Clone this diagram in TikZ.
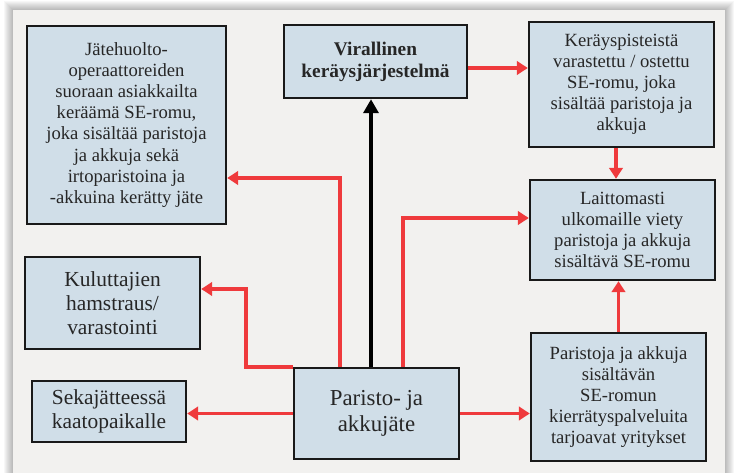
\documentclass[tikz,border=0pt]{standalone}
\usepackage{fontspec}
\setmainfont{Liberation Serif}
\usepackage{xcolor}
\usepackage{tikz}
\usetikzlibrary{
  arrows.meta,
  positioning,
  calc
}
\definecolor{PanelGray}{HTML}{F2F1EF}
\definecolor{BoxBlue}{HTML}{D0DEE8}
\definecolor{FlowRed}{HTML}{EF3A3C}
\definecolor{TextGray}{HTML}{262626}
\tikzset{
  box/.style={
    draw=black!90,
    line width=1.4pt,
    fill=BoxBlue,
    text=TextGray,
    align=center,
    inner sep=2pt,
    font=\fontsize{10.6}{12}\selectfont
  },
  bigbox/.style={
    box,
    font=\fontsize{12.2}{13.6}\selectfont
  },
  mainbox/.style={
    box,
    font=\fontsize{13}{15}\selectfont
  },
  flow/.style={
    -{Triangle[length=2.2mm,width=2.7mm]},
    draw=FlowRed,
    line width=2.2pt
  },
  official/.style={
    -{Triangle[length=2.8mm,width=3mm]},
    draw=black,
    line width=2.6pt
  }
}

\begin{document}
\begin{tikzpicture}[
  x=0.02cm,
  y=-0.02cm
]

  \useasboundingbox (0,0) rectangle (734,473);
  \fill[white] (0,0) rectangle (734,473);
  \foreach \s in {1,...,9} {
    \fill[black, opacity=0.03] (13-\s,10-\s) rectangle (725+\s,480);
  }
  \fill[PanelGray] (13,10) rectangle (725,480);

  \node[
    box,
    minimum width=3.98cm,
    minimum height=3.96cm
  ] (jatehuolto) at (126.5,125) {
    Jätehuolto-\\
    operaattoreiden\\
    suoraan asiakkailta\\
    keräämä SE-romu,\\
    joka sisältää paristoja\\
    ja akkuja sekä\\
    irtoparistoina ja\\
    -akkuina kerätty jäte
  };

  \node[
    box,
    minimum width=3.66cm,
    minimum height=1.46cm,
    font=\fontsize{11}{12.5}\selectfont
  ] (virallinen) at (375.5,61.5) {
    \textbf{Virallinen}\\
    \textbf{keräysjärjestelmä}
  };

  \node[
    box,
    minimum width=3.7cm,
    minimum height=2.5cm
  ] (kerays) at (621.5,84.5) {
    Keräyspisteistä\\
    varastettu / ostettu\\
    SE-romu, joka\\
    sisältää paristoja ja\\
    akkuja
  };

  \node[
    box,
    minimum width=3.7cm,
    minimum height=2cm
  ] (laiton) at (622.5,230) {
    Laittomasti\\
    ulkomaille viety\\
    paristoja ja akkuja\\
    sisältävä SE-romu
  };

  \node[
    bigbox,
    minimum width=3.5cm,
    minimum height=1.84cm
  ] (kuluttajat) at (112.5,303) {
    Kuluttajien\\
    hamstraus/\\
    varastointi
  };

  \node[
    bigbox,
    minimum width=3.08cm,
    minimum height=1.22cm
  ] (sekajate) at (109,411.5) {
    Sekajätteessä\\
    kaatopaikalle
  };

  \node[
    mainbox,
    minimum width=3.3cm,
    minimum height=1.82cm
  ] (paristo) at (376.5,413.5) {
    Paristo- ja\\
    akkujäte
  };

  \node[
    box,
    minimum width=3.5cm,
    minimum height=2.56cm
  ] (kierratys) at (618.5,397) {
    Paristoja ja akkuja\\
    sisältävän\\
    SE-romun\\
    kierrätyspalveluita\\
    tarjoavat yritykset
  };

  \draw[official]
  ([xshift=-0.11cm]paristo.north) --
  ([xshift=-0.11cm]paristo.north |- virallinen.south);

  \draw[flow]
  ([yshift=-0.13cm]virallinen.east) --
  ([yshift=-0.13cm]virallinen.east -| kerays.west);

  \draw[flow]
  ([xshift=-0.11cm]kerays.south) --
  ([xshift=-0.11cm]kerays.south |- laiton.north);

  \draw[flow]
  ([xshift=0.53cm]paristo.north) |-
  ([yshift=0.24cm]laiton.west);

  \draw[flow]
  (kierratys.north) --
  (kierratys.north |- laiton.south);

  \draw[flow]
  (paristo.east) --
  (paristo.east -| kierratys.west);

  \draw[flow]
  ([xshift=-0.73cm]paristo.north) |-
  ([yshift=-1.06cm]jatehuolto.east);

  \draw[flow]
  (paristo.north west) --
  ++(-0.94cm,0) |-
  ([yshift=0.28cm]kuluttajat.east);

  \draw[flow]
  (paristo.west) --
  (paristo.west -| sekajate.east);

\end{tikzpicture}
\end{document}
